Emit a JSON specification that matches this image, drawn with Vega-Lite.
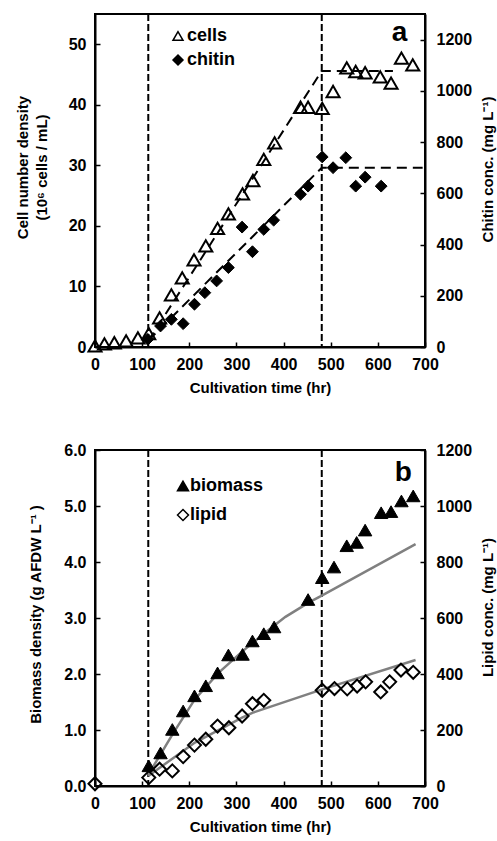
{
"$schema": "https://vega.github.io/schema/vega-lite/v6.json",
"padding": {"left": 14, "top": 12, "right": 0, "bottom": 0},
"spacing": 103,
"bounds": "flush",
"config": {
  "font": "Liberation Sans",
  "view": {"stroke": "black", "strokeWidth": 2},
  "axis": {"grid": false, "domainColor": "black", "domainWidth": 2, "tickColor": "black", "tickWidth": 1.5, "tickSize": -5,
    "labelFont": "Liberation Sans", "labelFontSize": 16, "labelFontWeight": "bold", "labelColor": "black", "labelPadding": 14,
    "labelOverlap": false, "labelFlush": false, "labelBound": false,
    "titleFont": "Liberation Sans", "titleFontSize": 15, "titleFontWeight": "bold", "titleColor": "black"}
},
"datasets": {
  "phases": [{"t": 113}, {"t": 481}],
  "cells": [
    {"t": 0, "v": 0.2, "series": "cells"}, {"t": 20, "v": 0.5, "series": "cells"}, {"t": 41, "v": 0.7, "series": "cells"},
    {"t": 66, "v": 1.0, "series": "cells"}, {"t": 91, "v": 1.5, "series": "cells"}, {"t": 114, "v": 2.2, "series": "cells"},
    {"t": 137, "v": 4.8, "series": "cells"}, {"t": 162, "v": 8.6, "series": "cells"}, {"t": 185, "v": 11.4, "series": "cells"},
    {"t": 210, "v": 14.4, "series": "cells"}, {"t": 235, "v": 16.7, "series": "cells"}, {"t": 260, "v": 19.6, "series": "cells"},
    {"t": 283, "v": 22.0, "series": "cells"}, {"t": 313, "v": 25.3, "series": "cells"}, {"t": 335, "v": 27.5, "series": "cells"},
    {"t": 358, "v": 31.0, "series": "cells"}, {"t": 381, "v": 33.7, "series": "cells"}, {"t": 436, "v": 39.6, "series": "cells"},
    {"t": 452, "v": 39.6, "series": "cells"}, {"t": 482, "v": 39.4, "series": "cells"}, {"t": 505, "v": 42.2, "series": "cells"},
    {"t": 534, "v": 46.1, "series": "cells"}, {"t": 553, "v": 45.5, "series": "cells"}, {"t": 573, "v": 45.3, "series": "cells"},
    {"t": 605, "v": 44.6, "series": "cells"}, {"t": 628, "v": 43.6, "series": "cells"}, {"t": 650, "v": 47.7, "series": "cells"},
    {"t": 674, "v": 46.6, "series": "cells"}
  ],
  "chitin": [
    {"t": 112, "v": 30, "series": "chitin"}, {"t": 139, "v": 82, "series": "chitin"}, {"t": 162, "v": 108, "series": "chitin"},
    {"t": 187, "v": 91, "series": "chitin"}, {"t": 211, "v": 167, "series": "chitin"}, {"t": 233, "v": 212, "series": "chitin"},
    {"t": 258, "v": 258, "series": "chitin"}, {"t": 283, "v": 310, "series": "chitin"}, {"t": 312, "v": 468, "series": "chitin"},
    {"t": 334, "v": 372, "series": "chitin"}, {"t": 358, "v": 459, "series": "chitin"}, {"t": 379, "v": 495, "series": "chitin"},
    {"t": 436, "v": 596, "series": "chitin"}, {"t": 452, "v": 628, "series": "chitin"}, {"t": 482, "v": 742, "series": "chitin"},
    {"t": 505, "v": 700, "series": "chitin"}, {"t": 532, "v": 739, "series": "chitin"}, {"t": 553, "v": 628, "series": "chitin"},
    {"t": 573, "v": 663, "series": "chitin"}, {"t": 607, "v": 628, "series": "chitin"}
  ],
  "cellsFit": [{"t": 113, "v": 1.0}, {"t": 481, "v": 45.6}, {"t": 632, "v": 45.6}],
  "chitinFit": [{"t": 113, "v": 25}, {"t": 481, "v": 700}, {"t": 695, "v": 700}],
  "biomass": [
    {"t": 114, "v": 0.36, "series": "biomass"}, {"t": 139, "v": 0.59, "series": "biomass"}, {"t": 164, "v": 1.01, "series": "biomass"},
    {"t": 187, "v": 1.34, "series": "biomass"}, {"t": 211, "v": 1.61, "series": "biomass"}, {"t": 235, "v": 1.79, "series": "biomass"},
    {"t": 260, "v": 2.02, "series": "biomass"}, {"t": 283, "v": 2.34, "series": "biomass"}, {"t": 313, "v": 2.35, "series": "biomass"},
    {"t": 334, "v": 2.59, "series": "biomass"}, {"t": 358, "v": 2.72, "series": "biomass"}, {"t": 380, "v": 2.84, "series": "biomass"},
    {"t": 452, "v": 3.33, "series": "biomass"}, {"t": 482, "v": 3.72, "series": "biomass"}, {"t": 507, "v": 3.91, "series": "biomass"},
    {"t": 534, "v": 4.29, "series": "biomass"}, {"t": 555, "v": 4.35, "series": "biomass"}, {"t": 573, "v": 4.57, "series": "biomass"},
    {"t": 607, "v": 4.88, "series": "biomass"}, {"t": 628, "v": 4.90, "series": "biomass"}, {"t": 650, "v": 5.09, "series": "biomass"},
    {"t": 675, "v": 5.18, "series": "biomass"}
  ],
  "lipid": [
    {"t": 0, "v": 8, "series": "lipid"}, {"t": 114, "v": 30, "series": "lipid"}, {"t": 137, "v": 60, "series": "lipid"},
    {"t": 164, "v": 54, "series": "lipid"}, {"t": 187, "v": 105, "series": "lipid"}, {"t": 211, "v": 146, "series": "lipid"},
    {"t": 235, "v": 167, "series": "lipid"}, {"t": 260, "v": 214, "series": "lipid"}, {"t": 284, "v": 208, "series": "lipid"},
    {"t": 312, "v": 250, "series": "lipid"}, {"t": 334, "v": 294, "series": "lipid"}, {"t": 358, "v": 306, "series": "lipid"},
    {"t": 482, "v": 342, "series": "lipid"}, {"t": 508, "v": 348, "series": "lipid"}, {"t": 535, "v": 347, "series": "lipid"},
    {"t": 556, "v": 357, "series": "lipid"}, {"t": 574, "v": 372, "series": "lipid"}, {"t": 606, "v": 336, "series": "lipid"},
    {"t": 625, "v": 372, "series": "lipid"}, {"t": 649, "v": 414, "series": "lipid"}, {"t": 675, "v": 406, "series": "lipid"}
  ],
  "biomassFit": [
    {"t": 113, "v": 0.2}, {"t": 140, "v": 0.58}, {"t": 165, "v": 0.93}, {"t": 212, "v": 1.55}, {"t": 262, "v": 2.02},
    {"t": 312, "v": 2.4}, {"t": 358, "v": 2.72}, {"t": 404, "v": 3.02}, {"t": 454, "v": 3.28}, {"t": 481, "v": 3.4}, {"t": 680, "v": 4.32}
  ],
  "lipidFit": [
    {"t": 113, "v": 36}, {"t": 212, "v": 155}, {"t": 312, "v": 244}, {"t": 335, "v": 262}, {"t": 482, "v": 345}, {"t": 680, "v": 450}
  ]
},
"resolve": {"scale": {"shape": "independent", "fill": "independent"}},
"vconcat": [
  {
    "width": 330, "height": 333,
    "resolve": {"scale": {"y": "independent"}},
    "layer": [
      {
        "layer": [
          {
            "data": {"name": "phases"},
            "mark": {"type": "rule", "strokeDash": [7, 3], "strokeWidth": 2, "color": "black"},
            "encoding": {
              "x": {"field": "t", "type": "quantitative", "scale": {"domain": [0, 700], "nice": false},
                "axis": {"values": [0, 50, 100, 150, 200, 250, 300, 350, 400, 450, 500, 550, 600, 650, 700], "format": "d",
                  "labelExpr": "datum.value % 100 == 0 ? datum.label : ''", "title": "Cultivation time (hr)", "titlePadding": 8}}
            }
          },
          {
            "data": {"name": "cellsFit"},
            "mark": {"type": "line", "strokeDash": [10, 6], "strokeWidth": 2, "color": "black"},
            "encoding": {
              "x": {"field": "t", "type": "quantitative", "scale": {"domain": [0, 700], "nice": false}},
              "y": {"field": "v", "type": "quantitative", "scale": {"domain": [0, 55], "nice": false},
                "axis": {"orient": "left", "values": [0, 5, 10, 15, 20, 25, 30, 35, 40, 45, 50, 55], "format": "d",
                  "labelExpr": "datum.value % 10 == 0 ? datum.label : ''",
                  "title": ["Cell number density", "(10⁶ cells / mL)"], "titleLineHeight": 19, "titlePadding": 19, "titleY": 153}}
            }
          },
          {
            "data": {"name": "cells"},
            "mark": {"type": "point", "filled": true, "stroke": "black", "strokeWidth": 2, "size": 170, "opacity": 1},
            "encoding": {
              "x": {"field": "t", "type": "quantitative", "scale": {"domain": [0, 700], "nice": false}},
              "y": {"field": "v", "type": "quantitative", "scale": {"domain": [0, 55], "nice": false}},
              "shape": {"field": "series", "type": "nominal", "scale": {"domain": ["cells", "chitin"], "range": ["triangle-up", "diamond"]},
                "legend": {"title": null, "orient": "none", "legendX": 74, "legendY": 13, "padding": 0, "labelFont": "Liberation Sans", "labelFontSize": 18, "labelFontWeight": "bold", "labelColor": "black", "symbolSize": 100, "labelOffset": 0, "rowPadding": 6,
                  "encode": {"symbols": {"update": {"stroke": {"value": "black"}, "strokeWidth": {"value": 2}}}}}},
              "fill": {"field": "series", "type": "nominal", "scale": {"domain": ["cells", "chitin"], "range": ["transparent", "black"]},
                "legend": {"title": null, "orient": "none", "legendX": 74, "legendY": 13, "padding": 0, "labelFont": "Liberation Sans", "labelFontSize": 18, "labelFontWeight": "bold", "labelColor": "black", "symbolSize": 100, "labelOffset": 0, "rowPadding": 6,
                  "encode": {"symbols": {"update": {"stroke": {"value": "black"}, "strokeWidth": {"value": 2}}}}}}
            }
          },
          {
            "data": {"values": [{}]},
            "mark": {"type": "text", "text": "a", "font": "Liberation Sans", "fontSize": 28, "fontWeight": "bold", "align": "center", "baseline": "alphabetic", "color": "black"},
            "encoding": {
              "x": {"datum": 646, "type": "quantitative", "scale": {"domain": [0, 700], "nice": false}},
              "y": {"datum": 50.6, "type": "quantitative", "scale": {"domain": [0, 55], "nice": false}}
            }
          }
        ]
      },
      {
        "layer": [
          {
            "data": {"name": "chitinFit"},
            "mark": {"type": "line", "strokeDash": [10, 6], "strokeWidth": 2, "color": "black"},
            "encoding": {
              "x": {"field": "t", "type": "quantitative", "scale": {"domain": [0, 700], "nice": false}},
              "y": {"field": "v", "type": "quantitative", "scale": {"domain": [0, 1300], "nice": false},
                "axis": {"orient": "right", "values": [0, 100, 200, 300, 400, 500, 600, 700, 800, 900, 1000, 1100, 1200, 1300], "format": "d",
                  "labelExpr": "datum.value % 200 == 0 ? datum.label : ''", "labelPadding": 16,
                  "title": "Chitin conc. (mg L⁻¹)", "titleAngle": -90, "titleBaseline": "top", "titlePadding": 9, "titleY": 155}}
            }
          },
          {
            "data": {"name": "chitin"},
            "mark": {"type": "point", "filled": true, "stroke": "black", "strokeWidth": 1, "size": 140, "opacity": 1},
            "encoding": {
              "x": {"field": "t", "type": "quantitative", "scale": {"domain": [0, 700], "nice": false}},
              "y": {"field": "v", "type": "quantitative", "scale": {"domain": [0, 1300], "nice": false}},
              "shape": {"field": "series", "type": "nominal", "scale": {"domain": ["cells", "chitin"], "range": ["triangle-up", "diamond"]},
                "legend": {"title": null, "orient": "none", "legendX": 74, "legendY": 13, "padding": 0, "labelFont": "Liberation Sans", "labelFontSize": 18, "labelFontWeight": "bold", "labelColor": "black", "symbolSize": 100, "labelOffset": 0, "rowPadding": 6,
                  "encode": {"symbols": {"update": {"stroke": {"value": "black"}, "strokeWidth": {"value": 2}}}}}},
              "fill": {"field": "series", "type": "nominal", "scale": {"domain": ["cells", "chitin"], "range": ["transparent", "black"]},
                "legend": {"title": null, "orient": "none", "legendX": 74, "legendY": 13, "padding": 0, "labelFont": "Liberation Sans", "labelFontSize": 18, "labelFontWeight": "bold", "labelColor": "black", "symbolSize": 100, "labelOffset": 0, "rowPadding": 6,
                  "encode": {"symbols": {"update": {"stroke": {"value": "black"}, "strokeWidth": {"value": 2}}}}}}
            }
          }
        ]
      }
    ]
  },
  {
    "width": 330, "height": 336,
    "resolve": {"scale": {"y": "independent"}},
    "layer": [
      {
        "layer": [
          {
            "data": {"name": "phases"},
            "mark": {"type": "rule", "strokeDash": [7, 3], "strokeWidth": 2, "color": "black"},
            "encoding": {
              "x": {"field": "t", "type": "quantitative", "scale": {"domain": [0, 700], "nice": false},
                "axis": {"values": [0, 50, 100, 150, 200, 250, 300, 350, 400, 450, 500, 550, 600, 650, 700], "format": "d",
                  "labelExpr": "datum.value % 100 == 0 ? datum.label : ''", "title": "Cultivation time (hr)", "titlePadding": 8}}
            }
          },
          {
            "data": {"name": "biomassFit"},
            "mark": {"type": "line", "strokeWidth": 2.5, "color": "#808080"},
            "encoding": {
              "x": {"field": "t", "type": "quantitative", "scale": {"domain": [0, 700], "nice": false}},
              "y": {"field": "v", "type": "quantitative", "scale": {"domain": [0, 6], "nice": false},
                "axis": {"orient": "left", "values": [0, 0.5, 1, 1.5, 2, 2.5, 3, 3.5, 4, 4.5, 5, 5.5, 6], "format": ".1f",
                  "labelExpr": "datum.value % 1 == 0 ? datum.label : ''",
                  "title": "Biomass density (g AFDW L⁻¹ )", "titlePadding": 20, "titleY": 164}}
            }
          },
          {
            "data": {"name": "biomass"},
            "mark": {"type": "point", "filled": true, "stroke": "black", "strokeWidth": 1, "size": 180, "opacity": 1},
            "encoding": {
              "x": {"field": "t", "type": "quantitative", "scale": {"domain": [0, 700], "nice": false}},
              "y": {"field": "v", "type": "quantitative", "scale": {"domain": [0, 6], "nice": false}},
              "shape": {"field": "series", "type": "nominal", "scale": {"domain": ["biomass", "lipid"], "range": ["triangle-up", "diamond"]},
                "legend": {"title": null, "orient": "none", "legendX": 79, "legendY": 27, "padding": 0, "labelFont": "Liberation Sans", "labelFontSize": 18, "labelFontWeight": "bold", "labelColor": "black", "symbolSize": 121, "labelOffset": -2, "rowPadding": 11,
                  "encode": {"symbols": {"update": {"stroke": {"value": "black"}, "strokeWidth": {"value": 2}}}}}},
              "fill": {"field": "series", "type": "nominal", "scale": {"domain": ["biomass", "lipid"], "range": ["black", "transparent"]},
                "legend": {"title": null, "orient": "none", "legendX": 79, "legendY": 27, "padding": 0, "labelFont": "Liberation Sans", "labelFontSize": 18, "labelFontWeight": "bold", "labelColor": "black", "symbolSize": 121, "labelOffset": -2, "rowPadding": 11,
                  "encode": {"symbols": {"update": {"stroke": {"value": "black"}, "strokeWidth": {"value": 2}}}}}}
            }
          },
          {
            "data": {"values": [{}]},
            "mark": {"type": "text", "text": "b", "font": "Liberation Sans", "fontSize": 28, "fontWeight": "bold", "align": "center", "baseline": "alphabetic", "color": "black"},
            "encoding": {
              "x": {"datum": 654, "type": "quantitative", "scale": {"domain": [0, 700], "nice": false}},
              "y": {"datum": 5.45, "type": "quantitative", "scale": {"domain": [0, 6], "nice": false}}
            }
          }
        ]
      },
      {
        "layer": [
          {
            "data": {"name": "lipidFit"},
            "mark": {"type": "line", "strokeWidth": 2.5, "color": "#808080"},
            "encoding": {
              "x": {"field": "t", "type": "quantitative", "scale": {"domain": [0, 700], "nice": false}},
              "y": {"field": "v", "type": "quantitative", "scale": {"domain": [0, 1200], "nice": false},
                "axis": {"orient": "right", "values": [0, 50, 100, 150, 200, 250, 300, 350, 400, 450, 500, 550, 600, 650, 700, 750, 800, 850, 900, 950, 1000, 1050, 1100, 1150, 1200], "format": "d",
                  "labelExpr": "datum.value % 200 == 0 ? datum.label : ''", "labelPadding": 16,
                  "title": "Lipid conc. (mg L⁻¹)", "titleAngle": -90, "titleBaseline": "top", "titlePadding": 9, "titleY": 157}}
            }
          },
          {
            "data": {"name": "lipid"},
            "mark": {"type": "point", "filled": true, "stroke": "black", "strokeWidth": 2, "size": 169, "opacity": 1},
            "encoding": {
              "x": {"field": "t", "type": "quantitative", "scale": {"domain": [0, 700], "nice": false}},
              "y": {"field": "v", "type": "quantitative", "scale": {"domain": [0, 1200], "nice": false}},
              "shape": {"field": "series", "type": "nominal", "scale": {"domain": ["biomass", "lipid"], "range": ["triangle-up", "diamond"]},
                "legend": {"title": null, "orient": "none", "legendX": 79, "legendY": 27, "padding": 0, "labelFont": "Liberation Sans", "labelFontSize": 18, "labelFontWeight": "bold", "labelColor": "black", "symbolSize": 121, "labelOffset": -2, "rowPadding": 11,
                  "encode": {"symbols": {"update": {"stroke": {"value": "black"}, "strokeWidth": {"value": 2}}}}}},
              "fill": {"field": "series", "type": "nominal", "scale": {"domain": ["biomass", "lipid"], "range": ["black", "transparent"]},
                "legend": {"title": null, "orient": "none", "legendX": 79, "legendY": 27, "padding": 0, "labelFont": "Liberation Sans", "labelFontSize": 18, "labelFontWeight": "bold", "labelColor": "black", "symbolSize": 121, "labelOffset": -2, "rowPadding": 11,
                  "encode": {"symbols": {"update": {"stroke": {"value": "black"}, "strokeWidth": {"value": 2}}}}}}
            }
          }
        ]
      }
    ]
  }
]
}
